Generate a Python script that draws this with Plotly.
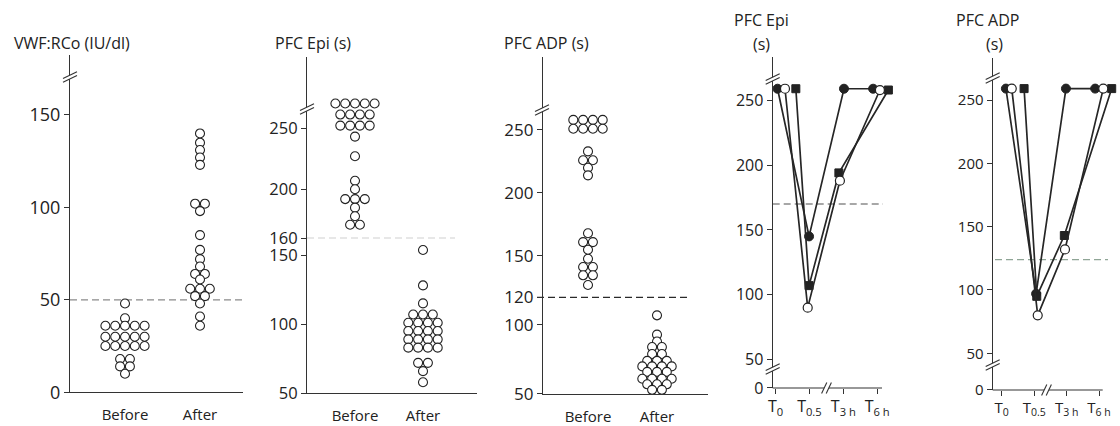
import plotly.graph_objects as go

# ---------------- DATA ----------------
groups = ["Before", "After"]

vwf_before = [48, 40, 36, 36, 36, 36, 36, 30, 30, 30, 30, 30, 25, 25, 25, 25, 25, 18, 18, 14, 14, 10]
vwf_after = [140, 135, 131, 127, 123, 102, 102, 98, 85, 77, 72, 68, 64, 64, 61, 56, 56, 56, 52, 52, 48, 41, 36]

epi_before = [270, 270, 270, 270, 270, 261, 261, 261, 261, 252, 252, 252, 252, 243, 227, 207, 200,
              192, 192, 192, 185, 178, 171, 171]
epi_after = [153, 128, 115, 107, 107, 107, 101, 101, 101, 101, 95, 95, 95, 95, 89, 89, 89, 89,
             83, 83, 83, 83, 72, 72, 66, 58]

adp_before = [258, 258, 258, 258, 251, 251, 251, 251, 233, 226, 226, 220, 214, 168, 161, 161,
              155, 148, 142, 142, 136, 136, 129]
adp_after = [107, 93, 88, 84, 84, 79, 79, 74, 74, 74, 70, 70, 70, 70, 66, 66, 66, 61, 61, 61, 61,
             57, 57, 57, 53, 53]

vwf_cutoff = 50
epi_cutoff = 160
adp_cutoff = 120

time_points = ["T<sub>0</sub>", "T<sub>0.5</sub>", "T<sub>3 h</sub>", "T<sub>6 h</sub>"]
epi_patient_a = [259, 145, 259, 259]   # filled circles
epi_patient_b = [259, 90, 188, 258]    # open circles
epi_patient_c = [259, 107, 194, 258]   # filled squares
adp_patient_a = [259, 97, 259, 259]
adp_patient_b = [259, 80, 132, 259]
adp_patient_c = [259, 95, 143, 259]
epi_time_cutoff = 170
adp_time_cutoff = 124

# ---------------- LAYOUT / STYLE ----------------
W, H = 1120, 426
FONT = "Open Sans"
INK = "#222222"
AXC = "#333333"
CAT_SIZE = 15
TITLE_SIZE = 16
DOT_SIZE = 9
DOT_STEP_PX = 9.8


def fx(p):
    return p / W


def fy(p):
    return 1 - p / H


layout = dict(
    template="none",
    width=W, height=H, autosize=False,
    margin=dict(l=0, r=0, t=0, b=0, pad=0, autoexpand=False),
    paper_bgcolor="white", plot_bgcolor="rgba(0,0,0,0)",
    showlegend=False, font=dict(family=FONT, color=INK, size=16),
)
shapes = []
annotations = []
traces = []
counter = {"x": 0, "y": 0}


def new_axis(kind):
    counter[kind] += 1
    n = counter[kind]
    return (kind if n == 1 else f"{kind}{n}"), (f"{kind}axis" if n == 1 else f"{kind}axis{n}")


YSTYLE = dict(showline=True, linecolor=AXC, linewidth=1.2, ticks="outside", ticklen=5,
              tickwidth=1.2, tickcolor=AXC, showgrid=False, zeroline=False, tickmode="array",
              automargin=False, fixedrange=True)


def build_panel(xdom, x0_px, unit_px, segs, xstyle, tick_size):
    """segs: (bottom_px, top_px, v_bottom, px_per_unit, tickvals)"""
    xid, xkey = new_axis("x")
    ys = []
    for (b, t, v0, ppu, ticks) in segs:
        yid, ykey = new_axis("y")
        v1 = v0 + (b - t) / ppu
        layout[ykey] = dict(domain=[fy(b), fy(t)], range=[v0 - 0.02, v1], anchor=xid,
                            tickvals=ticks,
                            tickfont=dict(size=tick_size, color=INK, family=FONT), **YSTYLE)
        ys.append((yid, v0, v1))
        # empty helper trace so that every axis segment gets its subplot drawn
        traces.append(go.Scatter(x=[None], y=[None], xaxis=xid, yaxis=yid, mode="markers",
                                 hoverinfo="skip", showlegend=False))
    xr = [(xdom[0] - x0_px) / unit_px, (xdom[1] - x0_px) / unit_px]
    layout[xkey] = dict(domain=[fx(xdom[0]), fx(xdom[1])], range=xr, anchor=ys[0][0],
                        showgrid=False, zeroline=False, fixedrange=True, automargin=False,
                        **xstyle)
    return xid, ys


def seg_for(ys, v):
    chosen = ys[0][0]
    for (yid, v0, v1) in ys:
        if v >= v0:
            chosen = yid
    return chosen


def swarm(values, step):
    totals, seen, out = {}, {}, []
    for v in values:
        totals[v] = totals.get(v, 0) + 1
    for v in values:
        k = seen.get(v, 0)
        seen[v] = k + 1
        out.append((k - (totals[v] - 1) / 2) * step)
    return out


def path_px(points, closed=False):
    s = "M " + " L ".join(f"{fx(x):.5f},{fy(y):.5f}" for x, y in points)
    return s + (" Z" if closed else "")


def ybreak(cx, cy):
    hw, hr, g = 7, 3.4, 1.8
    l1 = [(cx - hw, cy + hr + g), (cx + hw, cy - hr + g)]
    l2 = [(cx - hw, cy + hr - g), (cx + hw, cy - hr - g)]
    shapes.append(dict(type="path", xref="paper", yref="paper", layer="above",
                       path=path_px(l1 + l2[::-1], True), fillcolor="white",
                       line=dict(width=0, color="white")))
    for l in (l1, l2):
        shapes.append(dict(type="path", xref="paper", yref="paper", layer="above",
                           path=path_px(l), line=dict(width=1.1, color=AXC)))


def xbreak(cx, cy):
    hh, hr, g = 5.5, 2.6, 2.3
    l1 = [(cx - g - hr, cy + hh), (cx - g + hr, cy - hh)]
    l2 = [(cx + g - hr, cy + hh), (cx + g + hr, cy - hh)]
    shapes.append(dict(type="path", xref="paper", yref="paper", layer="above",
                       path=path_px(l1 + l2[::-1], True), fillcolor="white",
                       line=dict(width=0, color="white")))
    for l in (l1, l2):
        shapes.append(dict(type="path", xref="paper", yref="paper", layer="above",
                           path=path_px(l), line=dict(width=1.1, color=AXC)))


def cutoff_line(yid, value, xa_px, xb_px, color):
    shapes.append(dict(type="line", xref="paper", yref=yid, x0=fx(xa_px), x1=fx(xb_px),
                       y0=value, y1=value, layer="below",
                       line=dict(color=color, width=1.3, dash="7px,4px")))


def title(text, x_px, y_px, anchor="left"):
    annotations.append(dict(text=text, x=fx(x_px), y=fy(y_px), xref="paper", yref="paper",
                            xanchor=anchor, yanchor="middle", showarrow=False,
                            font=dict(size=TITLE_SIZE, color=INK, family=FONT)))


CAT_X = dict(showline=True, linecolor=AXC, linewidth=1.2, ticks="", tickmode="array",
             tickvals=[0, 1], ticktext=groups, ticklabelstandoff=9,
             tickfont=dict(size=CAT_SIZE, color=INK, family=FONT))


def dot_panel(xdom, centers_px, segs, before, after, cutoff, cut_span, cut_color, ttl, ttl_x,
              tick_size):
    unit = centers_px[1] - centers_px[0]
    xid, ys = build_panel(xdom, centers_px[0], unit, segs, CAT_X, tick_size)
    step = DOT_STEP_PX / unit
    for gi, vals in enumerate((before, after)):
        offs = swarm(vals, step)
        bucket = {}
        for v, o in zip(vals, offs):
            yid = seg_for(ys, v)
            bucket.setdefault(yid, ([], []))
            bucket[yid][0].append(gi + o)
            bucket[yid][1].append(v)
        for yid, (xs, vs) in bucket.items():
            traces.append(go.Scatter(x=xs, y=vs, xaxis=xid, yaxis=yid, mode="markers",
                                     cliponaxis=False, hoverinfo="skip",
                                     marker=dict(symbol="circle", size=DOT_SIZE, color="white",
                                                 line=dict(color=INK, width=1.1))))
    cutoff_line(seg_for(ys, cutoff), cutoff, cut_span[0], cut_span[1], cut_color)
    title(ttl, ttl_x, 43)
    return xid, ys


# Panel 1: VWF:RCo
dot_panel((70, 243), (125, 200), [(392.3, 55, 0, 1.849, [0, 50, 100, 150])],
          vwf_before, vwf_after, vwf_cutoff, (70, 245), "#8a8a8a", "VWF:RCo (IU/dl)", 12, 18)
ybreak(70, 77)

# Panel 2: PFC Epi (broken scale around 150-160 as in the original)
dot_panel((307, 477), (355, 423),
          [(393.3, 255, 50, 1.383, [50, 100, 150]), (255, 238.3, 150, 1.67, []),
           (238.3, 57, 160, 1.225, [160, 200, 250])],
          epi_before, epi_after, epi_cutoff, (307, 455), "#a0a0a0", "PFC Epi (s)", 273, 16.5)
ybreak(307, 109)

# Panel 3: PFC ADP
dot_panel((543, 708), (588, 657),
          [(394, 256, 50, 1.38, [50, 100, 120]), (256, 57, 150, 1.26, [150, 200, 250])],
          adp_before, adp_after, adp_cutoff, (537, 688), "#2a2a2a", "PFC ADP (s)", 502, 17)
ybreak(542, 110)

# Time-course panels
SERIES_STYLE = [
    dict(symbol="circle", size=9, color=INK, line=dict(color=INK, width=1)),
    dict(symbol="square", size=8, color=INK, line=dict(color=INK, width=1)),
    dict(symbol="circle", size=9, color="white", line=dict(color=INK, width=1.2)),
]


def time_panel(xdom, t0_px, unit, segs, series, dodges, cutoff, cut_span, cut_color,
               axis_end_px, base_px, xbreak_px, ttl_x, sub_x, tick_size):
    time_x = dict(showline=False, ticks="outside", ticklen=5, tickwidth=1.2, tickcolor=AXC,
                  tickmode="array", tickvals=[0, 1, 2, 3], ticktext=time_points,
                  ticklabelstandoff=-1,
                  tickfont=dict(size=tick_size, color=INK, family=FONT))
    xid, ys = build_panel(xdom, t0_px, unit, segs, time_x, tick_size)
    upper = ys[-1][0]
    for vals, dodge, st in zip(series, dodges, SERIES_STYLE):
        xs = [i + d for i, d in enumerate(dodge)]
        traces.append(go.Scatter(x=xs, y=vals, xaxis=xid, yaxis=upper, mode="lines+markers",
                                 cliponaxis=False, hoverinfo="skip",
                                 line=dict(color="#262626", width=1.7), marker=st))
    cutoff_line(upper, cutoff, cut_span[0], cut_span[1], cut_color)
    shapes.append(dict(type="line", xref="paper", yref="paper", x0=fx(xdom[0]),
                       x1=fx(axis_end_px), y0=fy(base_px), y1=fy(base_px), layer="above",
                       line=dict(color=AXC, width=1.2)))
    xbreak(xbreak_px, base_px)
    title("PFC " + ttl_x[0], ttl_x[1], 20, "center")
    title("(s)", sub_x, 44, "center")
    return xid, ys


# order: filled circle, filled square, open circle
time_panel((772.7, 894.2), 775.5, 33.9,
           [(388, 371, 0, 1.2954, [0]), (371, 57, 41.1, 1.2954, [50, 100, 150, 200, 250])],
           [epi_patient_a, epi_patient_c, epi_patient_b],
           [[0.06, -0.01, 0.02, -0.12], [0.60, -0.01, -0.13, 0.33], [0.28, -0.05, -0.10, 0.08]],
           epi_time_cutoff, (772.7, 883), "#8a8a8a", 882, 388, 826.5, ("Epi", 761), 761, 16)
ybreak(772.7, 79)
ybreak(772.7, 369)

time_panel((992.7, 1115.3), 1001.7, 32.45,
           [(390, 367, 0, 1.2666, [0]), (367, 58, 39.2, 1.2666, [50, 100, 150, 200, 250])],
           [adp_patient_a, adp_patient_c, adp_patient_b],
           [[0.13, 0.06, -0.02, -0.12], [0.69, 0.08, -0.07, 0.39], [0.31, 0.11, -0.05, 0.13]],
           adp_time_cutoff, (995, 1108), "#8fa596", 1102.7, 390, 1046.5, ("ADP", 987), 994, 15)
ybreak(992.7, 78)
ybreak(992.7, 365)

layout["shapes"] = shapes
layout["annotations"] = annotations

fig = go.Figure(data=traces, layout=layout)
fig.write_html("out.html", config={"displayModeBar": False})
